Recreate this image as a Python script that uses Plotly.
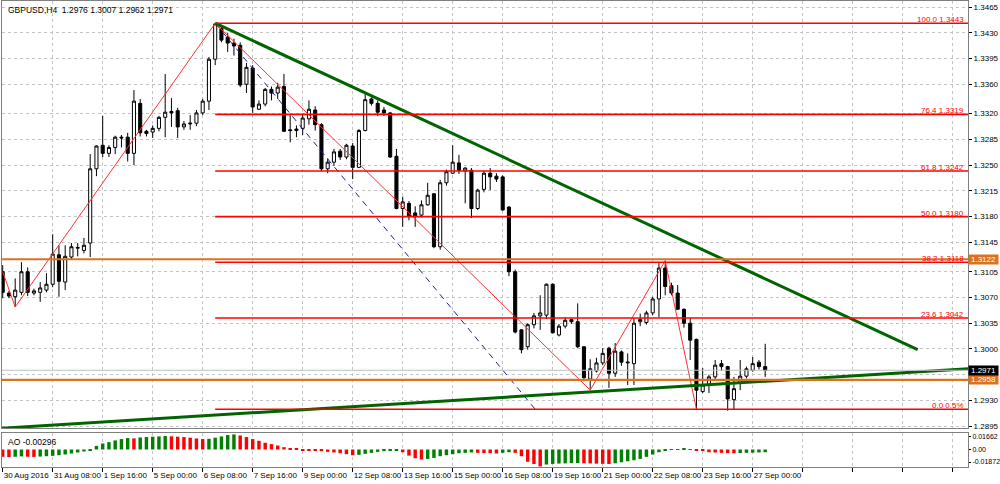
import plotly.graph_objects as go

# ---------------- data ----------------
opens = [1.3105,1.3076,1.3071,1.3077,1.3105,1.3076,1.3077,1.3080,1.3088,1.3128,
         1.3091,1.3125,1.3137,1.3134,1.3144,1.3245,1.3277,1.3266,1.3274,1.3288,
         1.3288,1.3266,1.3334,1.3296,1.3295,1.3300,1.3315,1.3323,1.3324,1.3302,
         1.3306,1.3307,1.3321,1.3337,1.3394,1.3436,1.3424,1.3416,1.3413,1.3360,
         1.3382,1.3326,1.3333,1.3353,1.3348,1.3357,1.3298,1.3299,1.3300,1.3313,
         1.3325,1.3305,1.3245,1.3254,1.3269,1.3261,1.3276,1.3247,1.3297,1.3340,
         1.3334,1.3325,1.3321,1.3262,1.3191,1.3198,1.3185,1.3182,1.3196,1.3211,
         1.3139,1.3226,1.3239,1.3253,1.3242,1.3243,1.3191,1.3217,1.3239,1.3235,
         1.3234,1.3193,1.3105,1.3026,1.3003,1.3033,1.3045,1.3046,1.3088,1.3019,
         1.3031,1.3040,1.3037,1.3003,1.2959,1.2970,1.2981,1.3001,1.2967,1.2996,
         1.2981,1.2980,1.3037,1.3036,1.3049,1.3068,1.3110,1.3086,1.3076,1.3054,
         1.3035,1.3013,1.2942,1.2951,1.2962,1.2980,1.2976,1.2931,1.2954,1.2963,
         1.2971,1.2982,1.2976]
highs = [1.3114,1.3079,1.3096,1.3118,1.3111,1.3082,1.3091,1.3103,1.3156,1.3141,
         1.3141,1.3144,1.3144,1.3151,1.3265,1.3277,1.3317,1.3277,1.3290,1.3291,
         1.3294,1.3352,1.3340,1.3298,1.3304,1.3317,1.3374,1.3341,1.3328,1.3310,
         1.3318,1.3325,1.3340,1.3397,1.3443,1.3440,1.3430,1.3422,1.3417,1.3389,
         1.3386,1.3338,1.3355,1.3357,1.3362,1.3374,1.3318,1.3304,1.3320,1.3338,
         1.3330,1.3307,1.3259,1.3272,1.3272,1.3279,1.3280,1.3299,1.3348,1.3342,
         1.3338,1.3329,1.3322,1.3272,1.3207,1.3201,1.3194,1.3202,1.3226,1.3212,
         1.3230,1.3244,1.3277,1.3264,1.3247,1.3246,1.3218,1.3242,1.3246,1.3239,
         1.3236,1.3194,1.3108,1.3027,1.3035,1.3049,1.3073,1.3089,1.3089,1.3034,
         1.3043,1.3041,1.3062,1.3003,1.2986,1.2988,1.3001,1.3003,1.3008,1.2998,
         1.2994,1.3042,1.3048,1.3052,1.3071,1.3117,1.3120,1.3090,1.3087,1.3055,
         1.3042,1.3014,1.2974,1.2965,1.2985,1.2985,1.2977,1.2962,1.2985,1.2976,
         1.2989,1.2985,1.3007]
lows = [1.3069,1.3069,1.3057,1.3073,1.3072,1.3073,1.3064,1.3077,1.3084,1.3071,
        1.3080,1.3122,1.3126,1.3130,1.3125,1.3235,1.3261,1.3261,1.3265,1.3274,
        1.3255,1.3250,1.3289,1.3289,1.3287,1.3296,1.3288,1.3302,1.3287,1.3298,
        1.3298,1.3303,1.3318,1.3325,1.3386,1.3417,1.3404,1.3399,1.3356,1.3348,
        1.3321,1.3325,1.3330,1.3338,1.3340,1.3295,1.3281,1.3288,1.3291,1.3305,
        1.3297,1.3242,1.3239,1.3249,1.3257,1.3258,1.3231,1.3246,1.3296,1.3331,
        1.3317,1.3317,1.3260,1.3190,1.3166,1.3175,1.3166,1.3179,1.3195,1.3137,
        1.3135,1.3222,1.3238,1.3238,1.3198,1.3178,1.3189,1.3213,1.3216,1.3227,
        1.3188,1.3099,1.3021,1.2994,1.2999,1.3028,1.3026,1.3041,1.3021,1.3017,
        1.3028,1.3034,1.3001,1.2956,1.2944,1.2968,1.2978,1.2947,1.2962,1.2977,
        1.2951,1.2951,1.3031,1.3033,1.3046,1.3043,1.3073,1.3073,1.3053,1.3029,
        1.2985,1.2918,1.2940,1.2940,1.2958,1.2970,1.2916,1.2917,1.2944,1.2960,
        1.2969,1.2972,1.2962]
closes = [1.3077,1.3072,1.3080,1.3105,1.3077,1.3079,1.3083,1.3088,1.3129,1.3092,
          1.3126,1.3139,1.3138,1.3141,1.3245,1.3276,1.3266,1.3274,1.3288,1.3287,
          1.3266,1.3337,1.3294,1.3293,1.3300,1.3315,1.3322,1.3321,1.3302,1.3306,
          1.3307,1.3321,1.3337,1.3394,1.3442,1.3420,1.3416,1.3412,1.3359,1.3383,
          1.3329,1.3333,1.3353,1.3348,1.3356,1.3296,1.3297,1.3297,1.3314,1.3326,
          1.3305,1.3245,1.3254,1.3268,1.3261,1.3277,1.3247,1.3297,1.3339,1.3334,
          1.3322,1.3321,1.3261,1.3191,1.3200,1.3181,1.3181,1.3196,1.3209,1.3139,
          1.3226,1.3241,1.3254,1.3243,1.3246,1.3191,1.3216,1.3239,1.3234,1.3231,
          1.3189,1.3105,1.3023,1.2999,1.3033,1.3045,1.3049,1.3088,1.3022,1.3031,
          1.3039,1.3037,1.3003,1.2961,1.2973,1.2981,1.2994,1.2967,1.2997,1.2982,
          1.2982,1.3035,1.3040,1.3049,1.3068,1.3110,1.3085,1.3076,1.3054,1.3035,
          1.3012,1.2944,1.2951,1.2962,1.2978,1.2976,1.2932,1.2946,1.2963,1.2973,
          1.2980,1.2976,1.2971]
ao_values = [-0.0081,-0.0083,-0.0080,-0.0076,-0.0080,-0.0082,-0.0078,-0.0074,-0.0070,-0.0063,
             -0.0055,-0.0044,-0.0033,-0.0022,-0.0011,0.0040,0.0066,0.0081,0.0100,0.0115,
             0.0126,0.0122,0.0133,0.0137,0.0141,0.0144,0.0148,0.0145,0.0141,0.0137,
             0.0130,0.0122,0.0115,0.0118,0.0130,0.0144,0.0159,0.0166,0.0155,0.0137,
             0.0115,0.0096,0.0074,0.0059,0.0044,0.0026,0.0015,0.0007,-0.0007,-0.0011,
             -0.0015,-0.0019,-0.0026,-0.0033,-0.0041,-0.0052,-0.0063,-0.0059,-0.0048,-0.0037,
             -0.0026,-0.0018,-0.0011,-0.0007,-0.0030,-0.0067,-0.0096,-0.0111,-0.0104,-0.0093,
             -0.0074,-0.0063,-0.0052,-0.0041,-0.0037,-0.0033,-0.0037,-0.0040,-0.0041,-0.0044,
             -0.0037,-0.0030,-0.0037,-0.0074,-0.0135,-0.0160,-0.0187,-0.0166,-0.0159,-0.0155,
             -0.0153,-0.0151,-0.0149,-0.0152,-0.0154,-0.0156,-0.0158,-0.0160,-0.0152,-0.0141,
             -0.0130,-0.0118,-0.0104,-0.0081,-0.0056,-0.0030,-0.0011,-0.0004,0.0004,0.0007,
             0.0004,-0.0007,-0.0018,-0.0030,-0.0033,-0.0037,-0.0039,-0.0041,-0.0039,-0.0037,
             -0.0035,-0.0033,-0.0030]

date_labels = ["30 Aug 2016", "31 Aug 08:00", "1 Sep 16:00", "5 Sep 00:00", "6 Sep 08:00",
               "7 Sep 16:00", "9 Sep 00:00", "12 Sep 08:00", "13 Sep 16:00", "15 Sep 00:00",
               "16 Sep 08:00", "19 Sep 16:00", "21 Sep 00:00", "22 Sep 08:00", "23 Sep 16:00",
               "27 Sep 00:00"]
bars_per_label = 8
price_ticks = [1.3465, 1.3430, 1.3395, 1.3360, 1.3320, 1.3285, 1.3250, 1.3215, 1.3180,
               1.3145, 1.3105, 1.3070, 1.3035, 1.3000, 1.2965, 1.2930, 1.2895]

fib_price = [1.3443, 1.3319, 1.3242, 1.3180, 1.3118, 1.3042, 1.2918]
fib_text = ["100.0 1.3443", "76.4 1.3319", "61.8 1.3242", "50.0 1.3180", "38.2 1.3118",
            "23.6 1.3042", "0.0 0.5%"]
fib_anchor_x = [34, 85.2]
fib_anchor_y = [1.3443, 1.2918]

zigzag_x = [0, 2, 34, 94, 106, 111]
zigzag_y = [1.3105, 1.3057, 1.3443, 1.2944, 1.3120, 1.2918]

trend_upper_x = [34, 146.4]
trend_upper_y = [1.3443, 1.2999]
trend_lower_x = [-0.5, 154.5]
trend_lower_y = [1.2892, 1.2973]

hlines_orange = [1.3122, 1.2958]
bid_price = 1.2971
title_text = "GBPUSD,H4  1.2976 1.3007 1.2962 1.2971"
ao_text = "AO -0.00296"
ao_ticks_text = ["0.01662", "0.00", "-0.01872"]

# ---------------- figure ----------------
n = len(opens)
xs = list(range(n))
FONT = "Liberation Sans"
GRID = "#c4c4c4"
XMIN, XMAX = -0.11, 154.45

fig = go.Figure()
fig.add_trace(go.Candlestick(
    x=xs, open=opens, high=highs, low=lows, close=closes,
    increasing=dict(line=dict(color="black", width=1), fillcolor="white"),
    decreasing=dict(line=dict(color="black", width=1), fillcolor="black"),
    whiskerwidth=0, showlegend=False, hoverinfo="skip", xaxis="x", yaxis="y"))

fig.add_trace(go.Scatter(x=fib_anchor_x, y=fib_anchor_y, mode="lines",
                         line=dict(color="#1c1c9c", width=1, dash="6px,5px"),
                         showlegend=False, hoverinfo="skip", xaxis="x", yaxis="y"))
fig.add_trace(go.Scatter(x=zigzag_x, y=zigzag_y, mode="lines",
                         line=dict(color="#ff3030", width=1),
                         showlegend=False, hoverinfo="skip", xaxis="x", yaxis="y"))

shapes = []
for p in fib_price:
    shapes.append(dict(type="line", xref="x", yref="y", x0=fib_anchor_x[0], x1=XMAX,
                       y0=p, y1=p, line=dict(color="#ff0000", width=1.6)))
shapes.append(dict(type="line", xref="paper", yref="y", x0=0, x1=1, y0=bid_price, y1=bid_price,
                   line=dict(color="#c0c0c0", width=1)))
for p in hlines_orange:
    shapes.append(dict(type="line", xref="paper", yref="y", x0=0, x1=1, y0=p, y1=p,
                       line=dict(color="#d9731f", width=2.2)))
fig.update_layout(shapes=shapes)

fig.add_trace(go.Scatter(x=trend_upper_x, y=trend_upper_y, mode="lines",
                         line=dict(color="#006400", width=3),
                         showlegend=False, hoverinfo="skip", xaxis="x", yaxis="y"))
fig.add_trace(go.Scatter(x=trend_lower_x, y=trend_lower_y, mode="lines",
                         line=dict(color="#006400", width=3),
                         showlegend=False, hoverinfo="skip", xaxis="x", yaxis="y"))

ao_colors = ["#ff0000"]
for i in range(1, n):
    ao_colors.append("#008000" if ao_values[i] > ao_values[i - 1] else "#ff0000")
fig.add_trace(go.Bar(x=xs, y=ao_values, marker=dict(color=ao_colors, line=dict(width=0)),
                     showlegend=False, hoverinfo="skip", xaxis="x2", yaxis="y2"))

ann = []
ann.append(dict(text=title_text, xref="paper", yref="paper", x=0.004, y=1, xanchor="left",
                yanchor="top", yshift=-2, showarrow=False, font=dict(family=FONT, size=8.5, color="black")))
ann.append(dict(text=ao_text, xref="paper", yref="y2 domain", x=0.004, y=1, xanchor="left",
                yanchor="top", yshift=-2, showarrow=False, font=dict(family=FONT, size=8.5, color="black")))
for t, p in zip(fib_text, fib_price):
    ann.append(dict(text=t, xref="paper", yref="y", x=1, y=p, xanchor="right", yanchor="bottom",
                    xshift=-2, yshift=-3, showarrow=False, font=dict(family=FONT, size=8, color="#ff0000")))
for p in hlines_orange:
    ann.append(dict(text="%.4f" % p, xref="paper", yref="y", x=1, y=p, xanchor="left", yanchor="middle",
                    xshift=0, showarrow=False, bgcolor="#d9731f", borderpad=0, width=29, height=9,
                    font=dict(family=FONT, size=8, color="white")))
ann.append(dict(text="%.4f" % bid_price, xref="paper", yref="y", x=1, y=bid_price, xanchor="left",
                yanchor="middle", xshift=0, showarrow=False, bgcolor="black", borderpad=0, width=29,
                height=9, font=dict(family=FONT, size=8, color="white")))
fig.update_layout(annotations=ann)

tickvals_x = list(range(0, 160, bars_per_label))
ticktext_x = [date_labels[k] if k < len(date_labels) else "" for k in range(len(tickvals_x))]

axis_common = dict(showgrid=True, gridcolor=GRID, griddash="3px,3px", gridwidth=1, automargin=False,
                   zeroline=False, showline=True, mirror=True, linecolor="#808080", linewidth=1)

fig.update_layout(
    template="none",
    width=1000, height=484,
    margin=dict(l=2, r=32, t=1, b=17),
    paper_bgcolor="white", plot_bgcolor="white",
    showlegend=False, bargap=0.45,
    xaxis=dict(domain=[0, 1], range=[XMIN, XMAX], anchor="y", tickvals=tickvals_x,
               showticklabels=False, rangeslider=dict(visible=False), ticks="", **axis_common),
    yaxis=dict(domain=[0.0837, 1], range=[1.28925, 1.34732], side="right", anchor="x",
               tickvals=price_ticks, ticktext=["%.4f" % v for v in price_ticks],
               ticks="outside", ticklen=3, tickcolor="black",
               tickfont=dict(family=FONT, size=8, color="black"), **axis_common),
    xaxis2=dict(domain=[0, 1], range=[XMIN, XMAX], anchor="y2", tickvals=tickvals_x,
                ticktext=ticktext_x, ticks="outside", ticklen=4, tickcolor="black",
                ticklabelposition="outside right", tickangle=0,
                tickfont=dict(family=FONT, size=8, color="black"), **axis_common),
    # max / min labels are drawn by the terminal just inside the pane edges
    yaxis2=dict(domain=[0, 0.073], range=[-0.0193, 0.0182], side="right", anchor="x2",
                tickvals=[0.0138, 0, -0.0138], ticktext=ao_ticks_text, automargin=False,
                ticks="outside", ticklen=2, tickcolor="black", showgrid=False,
                tickfont=dict(family=FONT, size=7, color="black"),
                zeroline=False, showline=True, mirror=True, linecolor="#808080", linewidth=1),
)

fig.write_html("out.html", config={"displayModeBar": False},
               post_script="document.body.style.margin='0';document.body.style.padding='0';")
